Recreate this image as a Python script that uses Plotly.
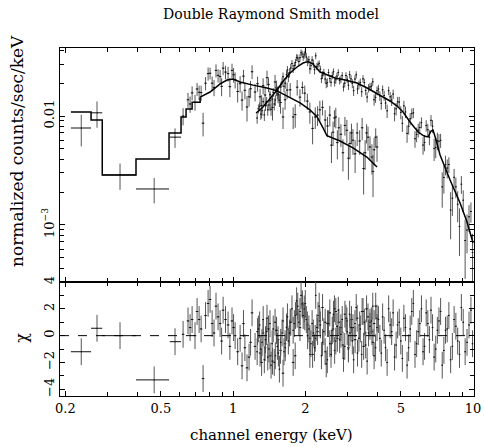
import plotly.graph_objects as go

# ---------------- data ----------------
# Spectrum A (upper, 1.25-10 keV): energy (keV), rate, 1-sigma error, chi residual
a_energy = [1.26, 1.29, 1.32, 1.35, 1.38, 1.41, 1.44, 1.47, 1.50, 1.53, 1.56, 1.60, 1.63, 1.67, 1.70,
            1.74, 1.78, 1.82, 1.86, 1.90, 1.94, 1.98, 2.02, 2.07, 2.11, 2.16, 2.21, 2.26, 2.31, 2.36,
            2.42, 2.47, 2.53, 2.59, 2.65, 2.71, 2.78, 2.85, 2.92, 2.99, 3.06, 3.14, 3.22, 3.30, 3.39,
            3.48, 3.57, 3.67, 3.77, 3.87, 3.98, 4.09, 4.20, 4.32, 4.45, 4.58, 4.71, 4.85, 5.00, 5.15,
            5.31, 5.47, 5.64, 5.82, 6.00, 6.19, 6.38, 6.58, 6.78, 6.99, 7.21, 7.44, 7.68, 7.93, 8.20,
            8.48, 8.78, 9.10, 9.44, 9.80]
a_rate = [0.00959, 0.0122, 0.0112, 0.01025, 0.0136, 0.0126, 0.01154, 0.01649, 0.01403, 0.01601,
          0.01395, 0.0205, 0.01874, 0.02396, 0.02285, 0.02761, 0.02714, 0.03099, 0.03403, 0.03429,
          0.03698, 0.03646, 0.0348, 0.03282, 0.02904, 0.03034, 0.03569, 0.02957, 0.02692, 0.02381,
          0.02187, 0.02028, 0.02208, 0.02353, 0.02043, 0.02323, 0.02118, 0.02356, 0.02003, 0.02171,
          0.02402, 0.01986, 0.02184, 0.01766, 0.02028, 0.02196, 0.01715, 0.01802, 0.01879, 0.01411,
          0.01707, 0.01529, 0.01742, 0.01315, 0.01708, 0.01399, 0.0105, 0.01348, 0.01081, 0.01239,
          0.00693, 0.00942, 0.01071, 0.00678, 0.00784, 0.00541, 0.00817, 0.0064, 0.00807, 0.00515,
          0.00586, 0.00224, 0.00359, 0.00359, 0.00176, 0.00224, 0.00097, 0.00169, 0.0009, 0.00133]
a_err = [0.00109, 0.00113, 0.00118, 0.00125, 0.00132, 0.0014, 0.00148, 0.00157, 0.00165, 0.00174,
         0.00186, 0.00201, 0.00213, 0.00226, 0.00238, 0.00251, 0.00236, 0.00246, 0.00256, 0.00266,
         0.00274, 0.00278, 0.00283, 0.00283, 0.00276, 0.00268, 0.00253, 0.00211, 0.00202, 0.00198,
         0.00194, 0.0019, 0.00186, 0.00182, 0.00179, 0.00176, 0.00174, 0.00172, 0.00171, 0.0017,
         0.00189, 0.00185, 0.00182, 0.0018, 0.00175, 0.0017, 0.00165, 0.00159, 0.00154, 0.00166,
         0.00161, 0.00156, 0.00166, 0.00161, 0.00154, 0.00162, 0.00156, 0.00148, 0.00148, 0.00138,
         0.00126, 0.00123, 0.00113, 0.00104, 0.00104, 0.00099, 0.00098, 0.00101, 0.00111, 0.00105,
         0.00096, 0.0008, 0.00073, 0.00059, 0.00055, 0.00048, 0.00045, 0.00039, 0.00035, 0.00028]
a_chi = [-1.2, 0.8, -0.5, -1.8, 0.3, -1.0, -2.2, 0.5, -1.5, -0.8, -2.5, 0.2, -1.2, 0.6, -0.4,
         1.0, 0.4, 1.5, 2.2, 1.8, 2.4, 2.0, 1.2, 0.5, -0.6, 0.2, 3.0, 1.5, 0.8, -0.5,
         -1.2, -1.8, -0.6, 0.4, -1.1, 0.7, -0.3, 1.2, -0.8, 0.3, 1.6, -0.4, 0.9, -1.3, 0.5,
         1.8, -0.7, 0.2, 1.1, -1.5, 0.6, -0.2, 1.4, -0.9, 2.0, 0.3, -1.6, 0.8, -0.4, 1.3,
         -2.2, 0.5, 2.4, -0.6, 0.9, -1.2, 1.7, -0.3, 0.6, -1.0, 1.1, -2.2, 0.4, 1.5, -0.8,
         0.7, -1.4, 1.0, -0.5, 1.9]

# Spectrum A, intermediate channels
a2_energy = [1.275, 1.305, 1.335, 1.365, 1.395, 1.425, 1.455, 1.485, 1.515, 1.545, 1.58, 1.615,
             1.65, 1.685, 1.72, 1.76, 1.80, 1.84, 1.88, 1.92, 1.96, 2.00, 2.045, 2.09, 2.135,
             2.185, 2.235, 2.285, 2.335, 2.39, 2.445, 2.50, 2.56, 2.62, 2.68, 2.745, 2.815, 2.885,
             2.955, 3.025, 3.10, 3.18, 3.26, 3.345, 3.435, 3.525, 3.62, 3.72, 3.82, 3.925, 4.035,
             4.145, 4.26, 4.385, 4.515, 4.645, 4.78, 4.925, 5.075, 5.23, 5.39, 5.555, 5.73, 5.91,
             6.095, 6.28, 6.48, 6.68, 6.885, 7.10, 7.325, 7.56, 7.805, 8.065, 8.34, 8.63, 8.94,
             9.27, 9.62, 9.95]
a2_rate = [0.01166, 0.01039, 0.01355, 0.01242, 0.01142, 0.0157, 0.01429, 0.01288, 0.01768, 0.01566,
           0.01843, 0.02298, 0.02002, 0.02645, 0.02499, 0.03032, 0.02897, 0.03443, 0.03161, 0.0381,
           0.03484, 0.03794, 0.0315, 0.02718, 0.03265, 0.02665, 0.02851, 0.03033, 0.022, 0.02509,
           0.01989, 0.02508, 0.02042, 0.0255, 0.02149, 0.02511, 0.02177, 0.01849, 0.02351, 0.0192,
           0.02192, 0.01709, 0.0239, 0.01935, 0.01669, 0.02027, 0.01492, 0.0185, 0.02062, 0.01483,
           0.0177, 0.01312, 0.01545, 0.01116, 0.01501, 0.01589, 0.01164, 0.01345, 0.00857, 0.01089,
           0.00804, 0.01052, 0.00619, 0.00742, 0.0087, 0.00572, 0.00749, 0.00913, 0.00503, 0.00594,
           0.00598, 0.00273, 0.00333, 0.00137, 0.00274, 0.00155, 0.00237, 0.00072, 0.00119, 0.00056]
a2_err = [0.00111, 0.00116, 0.00121, 0.00128, 0.00136, 0.00144, 0.00152, 0.00161, 0.0017, 0.0018,
          0.00194, 0.00207, 0.0022, 0.00232, 0.00245, 0.00231, 0.00241, 0.00251, 0.00261, 0.0027,
          0.00276, 0.00281, 0.00283, 0.0028, 0.00272, 0.00261, 0.00218, 0.00206, 0.002, 0.00196,
          0.00191, 0.00187, 0.00184, 0.00181, 0.00178, 0.00174, 0.00173, 0.00171, 0.0017, 0.0019,
          0.00187, 0.00184, 0.00181, 0.00177, 0.00172, 0.00167, 0.00162, 0.00157, 0.00169, 0.00163,
          0.00158, 0.00168, 0.00163, 0.00157, 0.00164, 0.00158, 0.00152, 0.00155, 0.00143, 0.00131,
          0.00129, 0.00118, 0.00108, 0.00107, 0.001, 0.00098, 0.00099, 0.00107, 0.00117, 0.0011,
          0.00088, 0.00079, 0.00066, 0.00063, 0.00053, 0.00049, 0.00044, 0.0004, 0.00033, 0.00027]
a2_chi = [0.5, -1.0, 1.2, -0.3, -1.6, 0.9, -0.6, -2.0, 0.4, -1.3, -0.5, 1.1, -0.9, 1.4, 0.2, 2.0,
          0.9, 2.6, 1.0, 3.0, 1.5, 2.4, 0.0, -1.4, 0.9, -0.9, 0.6, 2.2, -1.5, 0.3, -2.1, 0.9, -1.4,
          1.6, -0.4, 1.9, 0.1, -1.7, 1.3, -1.0, 0.6, -1.8, 2.1, -0.2, -1.4, 1.0, -1.9, 0.7, 2.2,
          -0.9, 1.2, -1.3, 0.4, -2.0, 0.8, 1.7, -0.7, 1.0, -1.7, 0.6, -0.9, 1.8, -1.4, 0.3, 2.0,
          -0.8, 0.9, 1.9, -1.6, 0.4, 1.8, -1.1, 0.5, -1.8, 1.2, -0.4, 2.1, -1.2, 0.8, -0.6]

# Model A (smooth curve)
a_model_e = [1.247, 1.321, 1.399, 1.525, 1.631, 1.728, 1.848, 1.957, 2.054, 2.154, 2.304, 2.465,
             2.661, 2.929, 3.286, 3.617, 4.098, 4.510, 4.824, 5.109, 5.464, 5.902, 6.250, 6.494,
             6.683, 6.813, 7.015, 7.287, 8.022, 8.830, 9.441, 10.0]
a_model_v = [0.01066, 0.01184, 0.01373, 0.01732, 0.02139, 0.0248, 0.02816, 0.03063, 0.03162, 0.0300,
             0.02533, 0.02377, 0.02232, 0.02139, 0.02008, 0.01806, 0.01558, 0.01373, 0.01235, 0.01088,
             0.00881, 0.00713, 0.00655, 0.00642, 0.00728, 0.00744, 0.00602, 0.00439, 0.00259, 0.00159,
             0.001065, 0.000684]

# Spectrum B (lower, 0.2-4 keV): wide low-energy bins
b_wide_e = [0.233, 0.271, 0.338, 0.469, 0.573]
b_wide_lo = [0.211, 0.256, 0.285, 0.394, 0.545]
b_wide_hi = [0.256, 0.285, 0.394, 0.541, 0.607]
b_wide_rate = [0.00776, 0.0107, 0.00288, 0.00214, 0.0064]
b_wide_err = [0.0025, 0.0029, 0.00078, 0.00056, 0.0013]
b_wide_chi = [-1.2, 0.55, 0.0, -3.3, -0.45]

# Spectrum B narrow bins
b_energy = [0.619, 0.649, 0.675, 0.694, 0.722, 0.750, 0.787, 0.818, 0.849, 0.883, 0.909, 0.953,
            0.990, 1.020, 1.070, 1.090, 1.120, 1.166, 1.200, 1.235, 1.296, 1.334, 1.385, 1.426,
            1.496, 1.540, 1.615, 1.680, 1.780, 1.850, 1.900, 1.990, 2.090, 2.200, 2.300, 2.420,
            2.530, 2.610, 2.680, 2.760, 2.870, 2.980, 3.070, 3.160, 3.290, 3.450, 3.550, 3.650,
            3.790, 3.870, 3.980]
b_rate = [0.0100, 0.0141, 0.0163, 0.0134, 0.0165, 0.0086, 0.0245, 0.0200, 0.0262, 0.0230, 0.0275,
          0.0245, 0.0262, 0.0215, 0.0198, 0.0140, 0.0172, 0.0150, 0.0255, 0.0166, 0.0150, 0.0190,
          0.0225, 0.0138, 0.0205, 0.0160, 0.0098, 0.0173, 0.0098, 0.0184, 0.0149, 0.0162, 0.0109,
          0.0098, 0.0114, 0.0092, 0.0102, 0.0071, 0.0098, 0.0078, 0.0046, 0.0074, 0.0056, 0.0060,
          0.0070, 0.0078, 0.0046, 0.0064, 0.0042, 0.0049, 0.0052]
b_err = [0.0018, 0.0022, 0.0024, 0.0022, 0.0025, 0.0021, 0.0034, 0.0030, 0.0036, 0.0035, 0.0038,
         0.0038, 0.0040, 0.0036, 0.0034, 0.0028, 0.0030, 0.0028, 0.0037, 0.0030, 0.0028, 0.0032,
         0.0035, 0.0027, 0.0033, 0.0029, 0.0022, 0.0030, 0.0022, 0.0030, 0.0027, 0.0028, 0.0024,
         0.0022, 0.0024, 0.0021, 0.0022, 0.0018, 0.0021, 0.0019, 0.0015, 0.0018, 0.0016, 0.0016,
         0.0017, 0.0018, 0.0014, 0.0016, 0.0013, 0.0014, 0.0014]
b_chi = [0.1, 1.1, 1.2, 0.0, 1.2, -3.2, 2.4, 0.9, 2.2, 0.9, 1.9, 0.8, 1.1, 0.0, -0.2, -2.25, -0.9,
         -1.6, 1.7, -0.8, -1.3, 0.2, 1.3, -1.5, 1.0, -0.3, -2.8, 0.7, -2.0, 1.6, 0.6, 1.4, -0.2,
         -0.2, 1.1, 1.0, 1.7, 0.5, 1.8, 1.0, -0.7, 1.1, 0.2, 0.6, 1.3, 1.8, 0.2, 1.4, 0.3, 0.9, 1.3]

# Spectrum B, intermediate channels
b2_energy = [0.662, 0.708, 0.736, 0.768, 0.802, 0.833, 0.866, 0.896, 0.930, 0.970, 1.005, 1.045,
             1.105, 1.143, 1.183, 1.265, 1.315, 1.36, 1.405, 1.46, 1.518, 1.577, 1.647, 1.73,
             1.815, 1.945, 2.04, 2.145, 2.25, 2.36, 2.475, 2.57, 2.645, 2.72, 2.815, 2.925, 3.025,
             3.115, 3.225, 3.37, 3.50, 3.60, 3.72, 3.83, 3.93]
b2_rate = [0.0129, 0.0177, 0.0164, 0.0200, 0.0247, 0.0183, 0.0236, 0.0187, 0.0253, 0.0186, 0.0239,
           0.0168, 0.0232, 0.0121, 0.0178, 0.0198, 0.0125, 0.0156, 0.0195, 0.0120, 0.0182, 0.0133,
           0.0141, 0.0174, 0.0103, 0.0183, 0.0137, 0.0077, 0.0102, 0.0120, 0.0081, 0.0054, 0.0096,
           0.0057, 0.0068, 0.0082, 0.0041, 0.0070, 0.0045, 0.0059, 0.0033, 0.0070, 0.0052, 0.0031,
           0.0064]
b2_err = [0.0022, 0.0024, 0.0026, 0.0028, 0.0030, 0.0031, 0.0033, 0.0035, 0.0036, 0.0037, 0.0037,
          0.0035, 0.0033, 0.0032, 0.0032, 0.0031, 0.0030, 0.0030, 0.0030, 0.0029, 0.0029, 0.0028,
          0.0027, 0.0026, 0.0025, 0.0024, 0.0023, 0.0022, 0.0021, 0.0019, 0.0017, 0.0017, 0.0017,
          0.0017, 0.0016, 0.0016, 0.0015, 0.0015, 0.0015, 0.0015, 0.0014, 0.0014, 0.0013, 0.0013,
          0.0013]
b2_chi = [0.6, 1.8, 0.5, 1.5, 2.7, 0.2, 1.4, -0.4, 1.2, -0.8, 0.6, -1.2, 0.9, -2.4, -0.5, 0.3,
          -2.0, -0.9, 0.5, -1.9, 0.4, -1.1, -0.6, 1.0, -1.5, 2.3, 0.8, -1.4, 0.3, 2.1, 0.9, -0.6,
          2.0, -0.2, 0.6, 1.6, -0.9, 1.2, -0.3, 0.8, -0.8, 2.0, 1.0, -0.5, 2.2]

# Model B: histogram part (bin edges / values) and smooth part
b_step_e = [0.211, 0.256, 0.285, 0.394, 0.541, 0.607, 0.637, 0.675, 0.729]
b_step_v = [0.0109, 0.0092, 0.00288, 0.00403, 0.00698, 0.0098, 0.0116, 0.0134, 0.0149]
b_model_e = [0.729, 0.802, 0.883, 0.944, 1.0, 1.069, 1.211, 1.385, 1.525, 1.679, 1.902, 2.09,
             2.24, 2.37, 2.46, 2.79, 3.16, 3.61, 3.98]
b_model_v = [0.0149, 0.0166, 0.0197, 0.0214, 0.0218, 0.0205, 0.0192, 0.0181, 0.0170, 0.0153,
             0.0132, 0.0114, 0.0098, 0.0078, 0.0066, 0.0059, 0.0051, 0.0042, 0.0034]

x_major = [0.2, 0.5, 1, 2, 5, 10]
x_major_text = ["0.2", "0.5", "1", "2", "5", "10"]
x_minor = [0.3, 0.4, 0.6, 0.7, 0.8, 0.9, 3, 4, 6, 7, 8, 9]
y_major = [0.001, 0.01]
y_major_text = ["10<sup>\u22123</sup>", "0.01"]
y_minor = [0.0004, 0.0005, 0.0006, 0.0007, 0.0008, 0.0009, 0.002, 0.003, 0.004, 0.005,
           0.006, 0.007, 0.008, 0.009, 0.02, 0.03, 0.04]
r_major = [-4, -2, 0, 2, 4]
r_major_text = ["\u22124", "\u22122", "0", "2", "4"]
r_minor = [-3, -1, 1, 3]

# ---------------- figure ----------------
FONT = "DejaVu Serif"
VCOL = "#555555"
HCOL = "#111111"

fig = go.Figure()


def add_points(x, y, err, xm, xp, xaxis, yaxis, pct=None):
    ex = dict(type="percent", value=pct, symmetric=True) if pct is not None else \
        dict(type="data", array=xp, arrayminus=xm, symmetric=False)
    ex.update(color=HCOL, thickness=1, width=0)
    ey = dict(type="data", array=err, color=VCOL, thickness=1, width=0) if err is not None else \
        dict(type="constant", value=1, color=VCOL, thickness=1, width=0)
    fig.add_trace(go.Scatter(x=x, y=y, mode="markers", marker=dict(size=1, color=HCOL),
                             error_x=ex, error_y=ey, xaxis=xaxis, yaxis=yaxis,
                             showlegend=False, hoverinfo="skip"))


xm_w = [e - l for e, l in zip(b_wide_e, b_wide_lo)]
xp_w = [h - e for e, h in zip(b_wide_e, b_wide_hi)]

# top panel
add_points(b_wide_e, b_wide_rate, b_wide_err, xm_w, xp_w, "x", "y")
add_points(b_energy, b_rate, b_err, None, None, "x", "y", pct=1.2)
add_points(b2_energy, b2_rate, b2_err, None, None, "x", "y", pct=1.2)
add_points(a_energy, a_rate, a_err, None, None, "x", "y", pct=0.8)
add_points(a2_energy, a2_rate, a2_err, None, None, "x", "y", pct=0.8)
fig.add_trace(go.Scatter(x=b_step_e, y=b_step_v, mode="lines", line=dict(color="black", width=1.5, shape="hv"),
                         xaxis="x", yaxis="y", showlegend=False, hoverinfo="skip"))
fig.add_trace(go.Scatter(x=b_model_e, y=b_model_v, mode="lines", line=dict(color="black", width=1.5),
                         xaxis="x", yaxis="y", showlegend=False, hoverinfo="skip"))
fig.add_trace(go.Scatter(x=a_model_e, y=a_model_v, mode="lines", line=dict(color="black", width=1.5),
                         xaxis="x", yaxis="y", showlegend=False, hoverinfo="skip"))

# residual panel
add_points(b_wide_e, b_wide_chi, None, xm_w, xp_w, "x2", "y2")
add_points(b_energy, b_chi, None, None, None, "x2", "y2", pct=1.2)
add_points(b2_energy, b2_chi, None, None, None, "x2", "y2", pct=1.2)
add_points(a_energy, a_chi, None, None, None, "x2", "y2", pct=0.8)
add_points(a2_energy, a2_chi, None, None, None, "x2", "y2", pct=0.8)

fig.add_shape(type="line", xref="x2 domain", yref="y2", x0=0, x1=1, y0=0, y1=0,
              line=dict(color="black", width=1, dash="dash"))

axis_common = dict(showline=True, linecolor="black", linewidth=1.2, mirror="allticks",
                   ticks="inside", ticklen=5, tickwidth=1, tickcolor="black",
                   showgrid=False, zeroline=False, automargin=False,
                   tickfont=dict(family=FONT, size=13, color="black"))
xr = [-0.7212, 1.004]
fig.update_layout(
    width=484, height=447,
    margin=dict(l=60, r=10, t=48, b=51, autoexpand=False),
    paper_bgcolor="white", plot_bgcolor="white",
    xaxis=dict(type="log", range=xr, domain=[0, 1], anchor="y", tickvals=x_major,
               ticktext=x_major_text, showticklabels=False,
               minor=dict(tickvals=x_minor, ticks="inside", ticklen=4, tickcolor="black"),
               **axis_common),
    yaxis=dict(type="log", range=[-3.523, -1.376], domain=[0.3276, 1], anchor="x",
               tickvals=y_major, ticktext=y_major_text, tickangle=-90,
               minor=dict(tickvals=y_minor, ticks="inside", ticklen=4, tickcolor="black"),
               **axis_common),
    xaxis2=dict(type="log", range=xr, domain=[0, 1], anchor="y2", tickvals=x_major,
                ticktext=x_major_text,
                minor=dict(tickvals=x_minor, ticks="inside", ticklen=4, tickcolor="black"),
                **axis_common),
    yaxis2=dict(range=[-4.5, 4.0], domain=[0, 0.3276], anchor="x2",
                tickvals=r_major, ticktext=r_major_text, tickangle=-90,
                minor=dict(tickvals=r_minor, ticks="inside", ticklen=4, tickcolor="black"),
                **axis_common),
)

fig.add_annotation(text="Double Raymond Smith model", xref="paper", yref="paper",
                   x=0.51, y=1.0977, xanchor="center", yanchor="middle", showarrow=False,
                   font=dict(family=FONT, size=14, color="black"))
fig.add_annotation(text="normalized counts/sec/keV", xref="paper", yref="paper",
                   x=-0.104, y=0.704, xanchor="center", yanchor="middle", showarrow=False,
                   textangle=-90, font=dict(family=FONT, size=17, color="black"))
fig.add_annotation(text="\u03c7", xref="paper", yref="paper",
                   x=-0.092, y=0.167, xanchor="center", yanchor="middle", showarrow=False,
                   textangle=-90, font=dict(family=FONT, size=16, color="black"))
fig.add_annotation(text="channel energy (keV)", xref="paper", yref="paper",
                   x=0.51, y=-0.112, xanchor="center", yanchor="middle", showarrow=False,
                   font=dict(family=FONT, size=15, color="black"))

fig.write_html("out.html", config={"displayModeBar": False},
               post_script="document.body.style.margin='0';")
